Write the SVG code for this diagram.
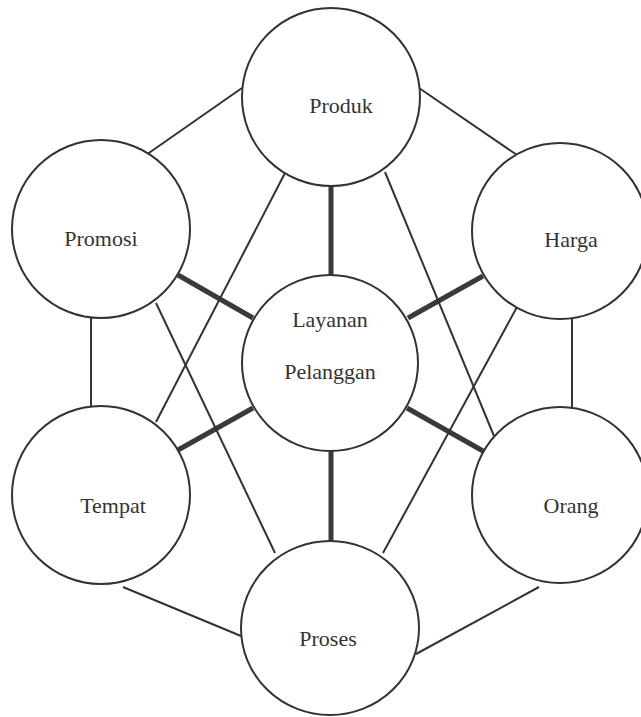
<svg xmlns="http://www.w3.org/2000/svg" width="641" height="717" viewBox="0 0 641 717">
<style>
.n{fill:#ffffff;stroke:#333333;stroke-width:2}
.t{font-size:22px;fill:#333333;text-anchor:middle}
.thick{stroke:#3a3a3a;stroke-width:5;stroke-linecap:butt}
.thin{stroke:#333333;stroke-width:2;stroke-linecap:butt}
</style>
<rect width="641" height="717" fill="#ffffff"/>
<g id="connectors">
<line class="thick" x1="331" y1="186" x2="331" y2="275"/>
<line class="thick" x1="178" y1="275" x2="253" y2="318"/>
<line class="thick" x1="408" y1="318" x2="483" y2="276"/>
<line class="thick" x1="178" y1="450" x2="253" y2="408"/>
<line class="thick" x1="407" y1="408" x2="483" y2="451"/>
<line class="thick" x1="331" y1="451" x2="331" y2="541"/>
<line class="thin" x1="146" y1="155" x2="242" y2="88"/>
<line class="thin" x1="419" y1="88" x2="517" y2="155"/>
<line class="thin" x1="91" y1="318" x2="91" y2="406"/>
<line class="thin" x1="572" y1="319" x2="572" y2="407"/>
<line class="thin" x1="123" y1="587" x2="241" y2="636"/>
<line class="thin" x1="539" y1="587" x2="416" y2="654"/>
<line class="thin" x1="285" y1="173" x2="156" y2="422"/>
<line class="thin" x1="385" y1="172" x2="494" y2="436"/>
<line class="thin" x1="156" y1="303" x2="275" y2="553"/>
<line class="thin" x1="517" y1="307" x2="383" y2="553"/>
</g>
<g font-family="'Liberation Serif', 'Times New Roman', 'DejaVu Serif', serif">
<g id="produk"><circle class="n" cx="331" cy="97" r="89"/><text class="t" x="341" y="113">Produk</text></g>
<g id="promosi"><circle class="n" cx="101" cy="229" r="89"/><text class="t" x="101" y="246">Promosi</text></g>
<g id="harga"><circle class="n" cx="560" cy="231" r="88"/><text class="t" x="571" y="247">Harga</text></g>
<g id="layanan"><circle class="n" cx="330" cy="363" r="88"/><text class="t" x="330" y="327">Layanan</text><text class="t" x="330" y="379">Pelanggan</text></g>
<g id="tempat"><circle class="n" cx="101" cy="495" r="89"/><text class="t" x="113" y="513">Tempat</text></g>
<g id="orang"><circle class="n" cx="560" cy="495" r="88"/><text class="t" x="571" y="513">Orang</text></g>
<g id="proses"><ellipse class="n" cx="330" cy="628" rx="89" ry="87"/><text class="t" x="328" y="646">Proses</text></g>
</g>
</svg>
